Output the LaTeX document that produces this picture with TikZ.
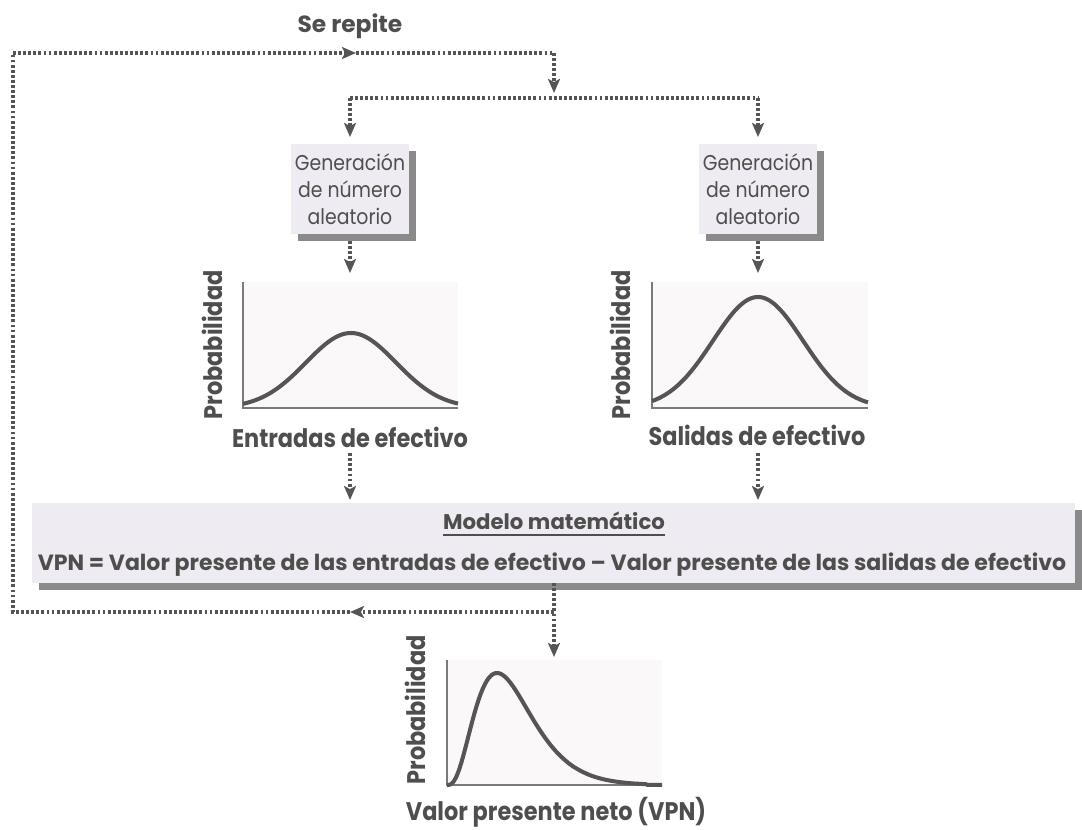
\documentclass[tikz,border=0pt]{standalone}
\usepackage{fontspec}
\setmainfont{Poppins}
\newfontfamily\lblfont[FakeStretch=0.88]{Poppins}
\newfontfamily\genfont[FakeStretch=0.88]{Poppins}
\newfontfamily\plainfont{Poppins}
\usetikzlibrary{arrows.meta,shadows,calc}
\definecolor{txt}{HTML}{4E4E4E}
\definecolor{dotc}{HTML}{555555}
\definecolor{boxfill}{HTML}{EEECF2}
\definecolor{shade}{HTML}{8A8A8A}
\definecolor{plotbg}{HTML}{FBF8FA}
\definecolor{curvec}{HTML}{555555}
\definecolor{axisc}{HTML}{7A7A7A}
\begin{document}
\begin{tikzpicture}[x=0.02cm,y=-0.02cm,
  every node/.style={text=txt, inner sep=0pt, outer sep=0pt},
  dotline/.style={draw=dotc, line width=1.9pt, dash pattern=on 1.6pt off 1.3pt},
  arr/.style={-{Stealth[length=8pt,width=6.8pt,inset=1.8pt,fill=dotc]}},
  gbox/.style={fill=boxfill, minimum width=2.36cm, minimum height=1.8cm, align=center,
    font=\fontsize{12.2}{15.3}\selectfont\genfont,
    drop shadow={fill=shade, shadow xshift=0.14cm, shadow yshift=-0.14cm, opacity=1}},
  mbox/.style={fill=boxfill, minimum width=20.86cm, minimum height=1.6cm,
    drop shadow={fill=shade, shadow xshift=0.14cm, shadow yshift=-0.14cm, opacity=1}},
  lbl/.style={font=\fontsize{14.5}{17}\selectfont\lblfont\bfseries},
  plotarea/.style={fill=plotbg},
  axisline/.style={draw=axisc, line width=1pt},
  curve/.style={draw=curvec, line width=2.3pt, line join=round}
]
\useasboundingbox (0,0) rectangle (1082,829);
\fill[white] (0,0) rectangle (1082,829);

% title
\node[font=\fontsize{13.3}{16}\selectfont\plainfont\bfseries, anchor=base] (rep) at (350,32) {Se repite};

% loop coordinates
\coordinate (tl) at (13,53);
\coordinate (tm) at (356,53);
\coordinate (tr) at (554,53);
\coordinate (sp) at (554,98);
\coordinate (sl) at (350,98);
\coordinate (sr) at (758,98);
\coordinate (bj) at (554,612);
\coordinate (bm) at (350,612);
\coordinate (bl) at (13,612);

% generator boxes
\node[gbox] (genL) at (350,189) {Generación\\de número\\aleatorio};
\node[gbox] (genR) at (758,189) {Generación\\de número\\aleatorio};

% plot areas
\node[plotarea, minimum width=4.3cm, minimum height=2.52cm] (pL) at (350.5,345) {};
\node[plotarea, minimum width=4.32cm, minimum height=2.52cm] (pR) at (760,345) {};
\node[plotarea, minimum width=4.3cm, minimum height=2.5cm] (pB) at (554.5,722.5) {};

\draw[axisline] (pL.north west) -- (pL.south west) -- (pL.south east);
\draw[axisline] (pR.north west) -- (pR.south west) -- (pR.south east);
\draw[axisline] (pB.north west) -- (pB.south west) -- (pB.south east);

\draw[curve] plot[domain=243:458, samples=90, smooth] (\x, {408-75*exp(-((\x-351)/45)^2/2)});
\draw[curve] plot[domain=652:868, samples=90, smooth] (\x, {408-111*exp(-((\x-758)/45)^2/2)});
\draw[curve] plot[domain=447:662, samples=120, smooth] (\x, {785-112*((\x-447)/50)^3*exp(-(\x-497)/16.67)});

% axis labels
\node[lbl, rotate=90, anchor=base] (probL) at (222,345) {Probabilidad};
\node[lbl, rotate=90, anchor=base] (probR) at (630,345) {Probabilidad};
\node[lbl, rotate=90, anchor=base] (probB) at (425,710) {Probabilidad};
\node[lbl, anchor=base] (entL) at (350,447) {Entradas de efectivo};
\node[lbl, anchor=base] (salR) at (757,445) {Salidas de efectivo};
\node[lbl, anchor=base] (vpnB) at (556,820) {Valor presente neto (VPN)};

% model box
\node[mbox] (model) at (553.5,543) {};
\node[anchor=base, font=\fontsize{12.1}{14}\selectfont\plainfont\bfseries] (mt) at (554,529) {Modelo matemático};
\draw[txt, line width=1.1pt] ($(mt.base west)+(0,6)$) -- ($(mt.base east)+(0,6)$);
\node[anchor=base, font=\fontsize{12.55}{14}\selectfont\plainfont\bfseries] (vpn) at (552,570) {VPN = Valor presente de las entradas de efectivo – Valor presente de las salidas de efectivo};

% connectors
\draw[dotline, arr] (tl) -- (tm);
\draw[dotline] (tm) -- (tr);
\draw[dotline, arr, shorten >=0.1cm] (tr) -- (sp);
\draw[dotline] (sl) -- (sr);
\draw[dotline, arr, shorten >=0.14cm] (sl) -- (genL.north);
\draw[dotline, arr, shorten >=0.14cm] (sr) -- (genR.north);
\draw[dotline, arr, shorten <=0.14cm, shorten >=0.18cm] (genL.south) -- (genL.south |- pL.north);
\draw[dotline, arr, shorten <=0.14cm, shorten >=0.18cm] (genR.south) -- (genR.south |- pR.north);
\draw[dotline, arr, shorten <=0.12cm, shorten >=0.06cm] (entL.south -| genL.south) -- (genL.south |- model.north);
\draw[dotline, arr, shorten <=0.16cm, shorten >=0.06cm] (salR.south -| genR.south) -- (genR.south |- model.north);
\draw[dotline, arr, shorten >=0.06cm] (model.south -| bj) -- (bj |- pB.north);
\draw[dotline, arr] (bj) -- (bm);
\draw[dotline] (bm) -- (bl) -- (tl);
\end{tikzpicture}
\end{document}
